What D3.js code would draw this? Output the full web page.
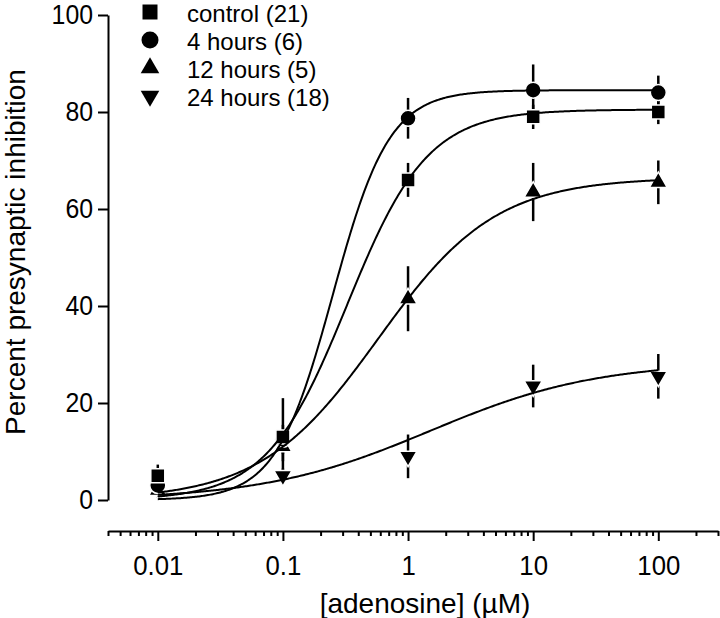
<!DOCTYPE html>
<html>
<head>
<meta charset="utf-8">
<script src="https://cdn.jsdelivr.net/npm/d3@7"></script>
<style>
  body { margin: 0; background: #fff; }
  text { font-family: "Liberation Sans", Arial, sans-serif; fill: #000; }
</style>
</head>
<body>
<script>
// adenosine doses (uM)
const doses = [0.01, 0.1, 1, 10, 100];

const seriesNames = ["control (21)", "4 hours (6)", "12 hours (5)", "24 hours (18)"];
const seriesSymbols = ["square", "circle", "triangle", "down"];

const controlMean = [5, 13, 66, 79, 80];
const controlSem = [2.3, 8, 3.5, 2.5, 2.5];
const h4Mean = [3, 12.5, 78.7, 84.5, 84];
const h4Sem = [1.5, 3, 4.2, 5.3, 3.5];
const h12Mean = [2, 11, 41.5, 63.5, 65.5];
const h12Sem = [1.5, 3, 6.7, 6, 4.5];
const h24Mean = [2.5, 5, 9, 23.5, 25.5];
const h24Sem = [1, 1.5, 4.5, 4.4, 4.6];

// sigmoid fits: [top, EC50, hill]
const controlFit = [80.5, 0.326, 1.35];
const h4Fit = [84.5, 0.25, 1.92];
const h12Fit = [66.5, 0.577, 0.924];
const h24Fit = [28.5, 1.5, 0.65];

const xTickLabels = ["0.01", "0.1", "1", "10", "100"];
const yTicks = [0, 20, 40, 60, 80, 100];

const allMeans = [controlMean, h4Mean, h12Mean, h24Mean];
const allSems = [controlSem, h4Sem, h12Sem, h24Sem];
const allFits = [controlFit, h4Fit, h12Fit, h24Fit];

const width = 720;
const height = 618;

const svg = d3.select('body')
  .append('svg')
  .attr('width', width)
  .attr('height', height);

const x = d3.scaleLog().domain([0.004, 300]).range([108, 718]);
const y = d3.scaleLinear().domain([0, 100]).range([500, 15]);

const symbolFor = (name, big) => {
  if (name === "square") return d3.symbol(d3.symbolSquare, big ? 225 : 196)();
  if (name === "circle") return d3.symbol(d3.symbolCircle, big ? 227 : 201)();
  return d3.symbol(d3.symbolTriangle, big ? 150 : 140)();
};

// y axis
const yAxis = d3.axisLeft(y).tickValues(yTicks).tickSize(10).tickSizeOuter(0).tickPadding(5);
const gy = svg.append('g').attr('transform', 'translate(108,0)').call(yAxis);
gy.select('.domain').attr('stroke-width', 2);
gy.selectAll('.tick line').attr('stroke-width', 2);
gy.selectAll('.tick text')
  .style('font-size', '27px')
  .attr('x', -15 / 0.92)
  .attr('transform', 'scale(0.92,1)');

// x axis: minor ticks first, then the labelled decades
const minorTicks = [];
[-3, -2, -1, 0, 1, 2].forEach(e => {
  for (let k = 1; k <= 9; k++) {
    const v = +(k * Math.pow(10, e)).toPrecision(3);
    if (v >= 0.004 && v <= 300 && k !== 1) minorTicks.push(v);
  }
});

const xMinor = d3.axisBottom(x).tickValues(minorTicks).tickSize(5).tickSizeOuter(0).tickFormat("");
const gxMinor = svg.append('g').attr('transform', 'translate(0,531)').call(xMinor);
gxMinor.select('.domain').attr('stroke-width', 2);
gxMinor.selectAll('.tick line').attr('stroke-width', 2);

const xMajor = d3.axisBottom(x).tickValues(doses).tickSize(10).tickSizeOuter(0)
  .tickFormat((d, i) => xTickLabels[i]);
const gxMajor = svg.append('g').attr('transform', 'translate(0,531)').call(xMajor);
gxMajor.select('.domain').remove();
gxMajor.selectAll('.tick line').attr('stroke-width', 2);
gxMajor.selectAll('.tick text')
  .style('font-size', '28px')
  .attr('y', 44)
  .attr('dy', null)
  .attr('transform', 'scale(0.92,1)');

// axis titles
svg.append('text')
  .attr('x', 425)
  .attr('y', 613)
  .attr('text-anchor', 'middle')
  .style('font-size', '28px')
  .text('[adenosine] (\u00b5M)');

svg.append('text')
  .attr('transform', 'translate(25,252) rotate(-90)')
  .attr('text-anchor', 'middle')
  .style('font-size', '28px')
  .text('Percent presynaptic inhibition');

// fitted curves
const hill = (p, c) => p[0] / (1 + Math.pow(p[1] / c, p[2]));
const curveX = d3.range(0, 401).map(i => Math.pow(10, -2 + i / 100));
const line = d3.line().x(d => x(d[0])).y(d => y(d[1]));

// error bars
allMeans.forEach((means, s) => {
  svg.append('g').selectAll('line')
    .data(doses)
    .enter()
    .append('line')
    .attr('x1', d => x(d))
    .attr('x2', d => x(d))
    .attr('y1', (d, i) => y(means[i] + allSems[s][i]))
    .attr('y2', (d, i) => y(means[i] - allSems[s][i]))
    .attr('stroke', '#000')
    .attr('stroke-width', 2.5);
});

// markers with a thin white halo, control drawn last so it sits on top
[3, 2, 1, 0].forEach(s => {
  const means = allMeans[s];
  svg.append('g').selectAll('path')
    .data(doses)
    .enter()
    .append('path')
    .attr('d', symbolFor(seriesSymbols[s]))
    .attr('transform', (d, i) => `translate(${x(d)},${y(means[i])})` + (seriesSymbols[s] === 'down' ? ' rotate(180)' : ''))
    .attr('fill', '#000')
    .attr('stroke', '#fff')
    .attr('stroke-width', 1.5);
});

allFits.forEach(p => {
  svg.append('path')
    .datum(curveX.map(c => [c, hill(p, c)]))
    .attr('d', line)
    .attr('fill', 'none')
    .attr('stroke', '#000')
    .attr('stroke-width', 2);
});

// legend
const legend = svg.append('g');
seriesNames.forEach((name, i) => {
  const rowY = 12 + 28 * i;
  legend.append('path')
    .attr('d', symbolFor(seriesSymbols[i], true))
    .attr('transform', `translate(150,${rowY})` + (seriesSymbols[i] === 'down' ? ' rotate(180)' : ''))
    .attr('fill', '#000');
  legend.append('text')
    .attr('x', 187)
    .attr('y', rowY + 10)
    .style('font-size', '24px')
    .text(name);
});
</script>
</body>
</html>
